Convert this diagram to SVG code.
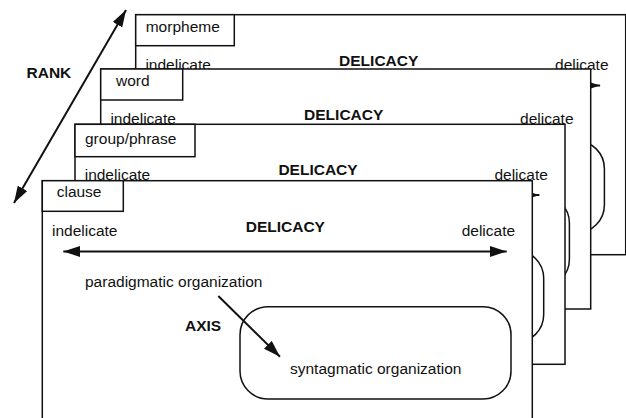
<svg xmlns="http://www.w3.org/2000/svg" width="626" height="418" viewBox="0 0 626 418">
  <style>
    text { font-family: "Liberation Sans", Arial, Helvetica, sans-serif; font-size: 15.5px; fill: #111; }
    .bold { font-weight: bold; }
    .page { fill: #fff; stroke: #111; stroke-width: 1.5; }
    .tab { fill: #fff; stroke: #111; stroke-width: 1.5; }
    .box { fill: none; stroke: #111; stroke-width: 1.5; }
    .arrow { fill: none; stroke: #111; stroke-width: 2; marker-end: url(#head); }
    .both { marker-start: url(#head); }
  </style>
  <defs>
    <marker id="head" viewBox="0 0 17 11" refX="17" refY="5.5" markerWidth="17" markerHeight="11" markerUnits="userSpaceOnUse" orient="auto-start-reverse">
      <path d="M0,0 L17,5.5 L0,11 Z" fill="#111"/>
    </marker>
  </defs>

  <!-- rank axis -->
  <g id="connectors">
    <line class="arrow both" x1="14" y1="203" x2="126" y2="10"/>
    <text class="bold" x="26.5" y="77.5" font-size="15">RANK</text>
  </g>

  <!-- morpheme page (back); its lower content lies under the word page -->
  <g id="page-morpheme" transform="translate(135.7,14.7)">
    <rect class="page" x="0" y="0" width="490" height="240"/>
    <rect class="tab" x="0" y="0" width="98.6" height="31"/>
    <text x="10" y="17">morpheme</text>
    <text x="9.7" y="55.3">indelicate</text>
    <text class="bold" x="203.4" y="51">DELICACY</text>
    <text x="419.4" y="55.3">delicate</text>
    <g class="page-connectors">
      <line class="arrow both" x1="21" y1="70.8" x2="464.4" y2="70.8"/>
    </g>
    <rect class="box" x="197.7" y="126" width="271" height="92.3" rx="28"/>
  </g>

  <!-- word page -->
  <g id="page-word" transform="translate(100.7,69)">
    <rect class="page" x="0" y="0" width="490" height="240"/>
    <rect class="tab" x="0" y="0" width="82" height="31"/>
    <text x="15.3" y="17">word</text>
    <text x="9.7" y="55.3">indelicate</text>
    <text class="bold" x="203.4" y="51">DELICACY</text>
    <text x="419.4" y="55.3">delicate</text>
    <g class="page-connectors">
      <line class="arrow both" x1="21" y1="70.8" x2="464.4" y2="70.8"/>
    </g>
    <rect class="box" x="197.7" y="126" width="271" height="92.3" rx="28"/>
  </g>

  <!-- group/phrase page -->
  <g id="page-group" transform="translate(75,124.3)">
    <rect class="page" x="0" y="0" width="490" height="240"/>
    <rect class="tab" x="0" y="0" width="120" height="32.4"/>
    <text x="10" y="20">group/phrase</text>
    <text x="9.7" y="55.3">indelicate</text>
    <text class="bold" x="203.4" y="51">DELICACY</text>
    <text x="419.4" y="55.3">delicate</text>
    <g class="page-connectors">
      <line class="arrow both" x1="21" y1="70.8" x2="464.4" y2="70.8"/>
    </g>
    <rect class="box" x="197.7" y="126" width="271" height="92.3" rx="28"/>
  </g>

  <!-- clause page (front) -->
  <g id="page-clause" transform="translate(42.3,180.7)">
    <rect class="page" x="0" y="0" width="490" height="240"/>
    <rect class="tab" x="0" y="0" width="81" height="30.6"/>
    <text x="14.4" y="16.3">clause</text>
    <text x="9.7" y="55.3">indelicate</text>
    <text class="bold" x="203.4" y="51">DELICACY</text>
    <text x="419.4" y="55.3">delicate</text>
    <g class="page-connectors">
      <line class="arrow both" x1="21" y1="70.8" x2="464.4" y2="70.8"/>
      <line class="arrow" x1="176" y1="115.3" x2="237.7" y2="176"/>
    </g>
    <text x="42.7" y="106">paradigmatic organization</text>
    <text class="bold" x="142.7" y="150">AXIS</text>
    <rect class="box" x="197.7" y="126" width="271" height="92.3" rx="28"/>
    <text x="247.7" y="193.3">syntagmatic organization</text>
  </g>
</svg>
